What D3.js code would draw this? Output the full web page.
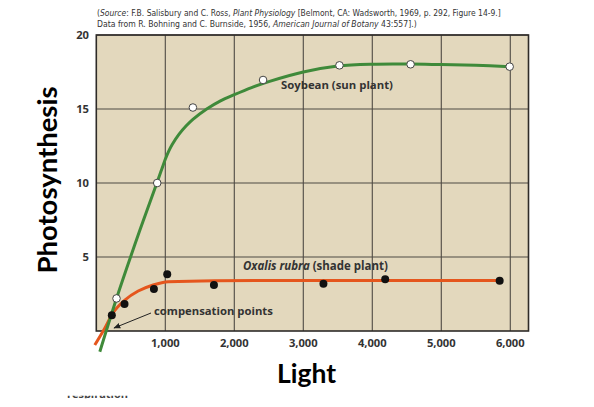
<!DOCTYPE html>
<html><head><meta charset="utf-8">
<script src="https://cdn.jsdelivr.net/npm/d3@7"></script>
<style>body{margin:0;background:#fff}svg{display:block}</style>
</head><body>
<script>
// ---- data ----
const xTicks = [1000, 2000, 3000, 4000, 5000, 6000];
const yTicks = [5, 10, 15, 20];
const soyPoints = [[293,2.2],[883,10.0],[1400,15.1],[2417,16.96],[3524,17.95],[4555,18.02],[5991,17.86]];
const soyCurve = [[51,-1.4],[293,2.2],[631,6.8],[874,9.95],[950,10.95],[1000,11.6],[1050,12.15],[1100,12.6],[1200,13.3],[1300,13.85],[1400,14.3],[1600,15.0],[1800,15.55],[2000,15.97],[2250,16.45],[2500,16.85],[3000,17.5],[3500,17.9],[4000,18.03],[4550,18.04],[5000,18.0],[5500,17.95],[6000,17.86]];
const oxPoints = [[225,1.06],[409,1.82],[835,2.84],[1028,3.83],[1705,3.1],[3292,3.2],[4187,3.49],[5846,3.4]];
const oxCurve = [[-22,-0.95],[123,0.18],[244,1.24],[414,2.09],[607,2.7],[824,3.11],[1042,3.33],[1720,3.4],[3000,3.42],[5870,3.42]];
const sourceLine1 = [["(",false],["Source",true],[": F.B. Salisbury and C. Ross, ",false],["Plant Physiology",true],[" [Belmont, CA: Wadsworth, 1969, p. 292, Figure 14-9.]",false]];
const sourceLine2 = [["Data from R. Bohning and C. Burnside, 1956, ",false],["American Journal of Botany",true],[" 43:557].)",false]];
const xMax = 6264, yMax = 20;

const W = 594, H = 407;
const svg = d3.select("body").append("svg").attr("width", W).attr("height", H);
const defs = svg.append("defs");
const x = d3.scaleLinear().domain([0, xMax]).range([96.3, 528.5]);
const y = d3.scaleLinear().domain([0, yMax]).range([331, 35]);
const font = "'Open Sans', 'DejaVu Sans', sans-serif";

// scale a text's font size so its rendered width matches a target width
function fit(sel, target) {
  const fs = +sel.attr("font-size");
  const w = sel.node().getComputedTextLength();
  if (w > 0) sel.attr("font-size", fs * target / w);
  return sel;
}

// source text
function srcLine(parts, yy, len) {
  const t = svg.append("text").attr("x", 97).attr("y", yy)
    .attr("font-family", "'Liberation Sans Narrow','DejaVu Sans Condensed',sans-serif")
    .attr("font-size", 9).attr("fill", "#333");
  parts.forEach(p => t.append("tspan").text(p[0]).attr("font-style", p[1] ? "italic" : "normal"));
  fit(t, len);
}
srcLine(sourceLine1, 15.5, 404);
srcLine(sourceLine2, 27, 320);

// plot background
svg.append("rect").attr("x", x(0)).attr("y", y(yMax))
  .attr("width", x(xMax) - x(0)).attr("height", y(0) - y(yMax))
  .attr("fill", "#e3d8bd");

// grid
svg.append("g").selectAll("line").data(xTicks).join("line")
  .attr("x1", d => x(d)).attr("x2", d => x(d)).attr("y1", y(0)).attr("y2", y(yMax))
  .attr("stroke", "#4e4a44").attr("stroke-width", 1.1);
svg.append("g").selectAll("line").data(yTicks).join("line")
  .attr("x1", x(0)).attr("x2", x(xMax)).attr("y1", d => y(d)).attr("y2", d => y(d))
  .attr("stroke", "#4e4a44").attr("stroke-width", 1.1);
svg.append("rect").attr("x", x(0)).attr("y", y(yMax))
  .attr("width", x(xMax) - x(0)).attr("height", y(0) - y(yMax))
  .attr("fill", "none").attr("stroke", "#2e2b28").attr("stroke-width", 1.6);

// axes tick labels
svg.append("g").selectAll("text").data(xTicks).join("text")
  .attr("x", d => x(d)).attr("y", 346.5).attr("text-anchor", "middle")
  .attr("font-family", font).attr("font-weight", 700).attr("font-size", 11.2)
  .attr("fill", "#333").text(d3.format(","));
svg.append("g").selectAll("text").data(yTicks).join("text")
  .attr("x", 89).attr("y", d => y(d) + 4).attr("text-anchor", "end")
  .attr("font-family", font).attr("font-weight", 700).attr("font-size", 11.2)
  .attr("fill", "#333").text(d => d);

// curves
const line = d3.line().x(d => x(d[0])).y(d => y(d[1])).curve(d3.curveMonotoneX);
const smooth = d3.line().x(d => x(d[0])).y(d => y(d[1])).curve(d3.curveCatmullRom.alpha(0.5));
svg.append("path").datum(oxCurve).attr("d", line)
  .attr("fill", "none").attr("stroke", "#e5561d").attr("stroke-width", 3);
svg.append("path").datum(soyCurve).attr("d", smooth)
  .attr("fill", "none").attr("stroke", "#3f8a3a").attr("stroke-width", 3);

// points
svg.append("g").selectAll("circle").data(oxPoints).join("circle")
  .attr("cx", d => x(d[0])).attr("cy", d => y(d[1])).attr("r", 4)
  .attr("fill", "#111");
svg.append("g").selectAll("circle").data(soyPoints).join("circle")
  .attr("cx", d => x(d[0])).attr("cy", d => y(d[1])).attr("r", 3.8)
  .attr("fill", "#fff").attr("stroke", "#444").attr("stroke-width", 1);

// labels in plot
fit(svg.append("text").attr("x", 281).attr("y", 88.5)
  .attr("font-family", font).attr("font-weight", 700).attr("font-size", 10)
  .attr("fill", "#333").text("Soybean (sun plant)"), 112);
const ox = svg.append("text").attr("x", 243).attr("y", 269.5)
  .attr("font-family", font).attr("font-weight", 700).attr("font-size", 10).attr("fill", "#333");
ox.append("tspan").attr("font-style", "italic").text("Oxalis rubra");
ox.append("tspan").text(" (shade plant)");
fit(ox, 145);
fit(svg.append("text").attr("x", 154).attr("y", 315)
  .attr("font-family", font).attr("font-weight", 700).attr("font-size", 10)
  .attr("fill", "#333").text("compensation points"), 119);

// arrow
defs.append("marker").attr("id", "ah").attr("viewBox", "0 0 10 10")
  .attr("refX", 9).attr("refY", 5).attr("markerWidth", 7).attr("markerHeight", 7)
  .attr("orient", "auto").append("path").attr("d", "M0,1 L10,5 L0,9 Z").attr("fill", "#222");
svg.append("line").attr("x1", 151).attr("y1", 313).attr("x2", 114).attr("y2", 328)
  .attr("stroke", "#222").attr("stroke-width", 1).attr("marker-end", "url(#ah)");

// axis titles
fit(svg.append("text").attr("transform", "translate(57,180) rotate(-90)")
  .attr("text-anchor", "middle").attr("font-family", "Lato, 'Open Sans', sans-serif")
  .attr("font-weight", 700).attr("font-size", 25).attr("fill", "#000").text("Photosynthesis"), 187);
fit(svg.append("text").attr("x", 306.5).attr("y", 383)
  .attr("text-anchor", "middle").attr("font-family", "Lato, 'Open Sans', sans-serif")
  .attr("font-weight", 700).attr("font-size", 25).attr("fill", "#000").text("Light"), 59);

// clipped fragment at bottom-left
defs.append("clipPath").attr("id", "cl").append("rect")
  .attr("x", 60).attr("y", 395.8).attr("width", 80).attr("height", 2.4);
fit(svg.append("text").attr("x", 67).attr("y", 398.3).attr("clip-path", "url(#cl)")
  .attr("font-family", font).attr("font-weight", 700).attr("font-size", 10)
  .attr("fill", "#444").text("respiration"), 61);
</script>
</body></html>
